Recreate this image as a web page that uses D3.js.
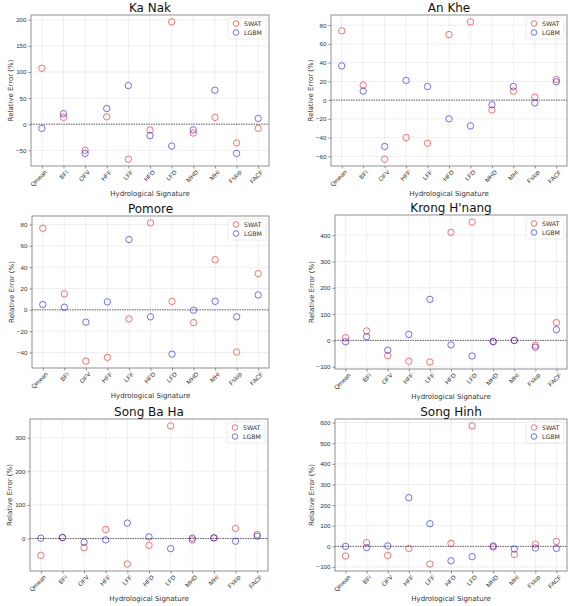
<!DOCTYPE html>
<html lang="en">
<head>
  <meta charset="utf-8">
  <style>
    body { margin: 0; background: #fff; }
    svg { font-family: "DejaVu Sans", sans-serif; }
    .tick text { font-size: 6.2px; fill: #333; }
    .title { font-size: 12px; fill: #111; }
    .axis-label { font-size: 7px; fill: #333; }
    .legend text { font-size: 6.2px; fill: #333; }
  </style>
  <script src="https://d3js.org/d3.v7.min.js"></script>
</head>
<body>
  <script>
    const categories = ["Qmean", "BFI", "OFV", "HFF", "LFF", "HFD", "LFD", "MHD", "MHI", "Fslop", "FACF"];
    const stations = ["Ka Nak", "An Khe", "Pomore", "Krong H'nang", "Song Ba Ha", "Song Hinh"];

    const swatKaNak = [107, 13, -50, 14, -67, -11, 196, -17, 13, -36, -8];
    const lgbmKaNak = [-8, 20, -56, 30, 74, -22, -42, -11, 65, -56, 11];
    const swatAnKhe = [74, 16, -63, -40, -46, 70, 83.5, -10.5, 9.6, 3.2, 22];
    const lgbmAnKhe = [36.5, 9.6, -49.5, 21, 14.5, -20, -27.5, -5, 14.5, -3, 19.5];
    const swatPomore = [76.5, 15, -48, -44.5, -8.5, 81.5, 8, -12, 47, -39.5, 34];
    const lgbmPomore = [5, 2.5, -11.5, 7.5, 66, -6.5, -41.5, -0.3, 8, -6.5, 14];
    const swatKrong = [10, 36, -58, -79, -82, 411, 450, -5, 0, -19, 68];
    const lgbmKrong = [-5, 14, -37, 23, 156, -17, -59, -4, 0, -26, 41];
    const swatBaHa = [-50, 3, -27, 27, -76, -20, 335, -4, 2, 30, 12];
    const lgbmBaHa = [1, 3, -11, -4, 46, 5, -30, 1, 2, -8, 7];
    const swatHinh = [-47, 18, -44, -10, -86, 15, 584, -3, -39, 11, 24];
    const lgbmHinh = [0, -6, 2, 236, 110, -70, -50, 2, -13, -8, -10];

    const swatSeries = [swatKaNak, swatAnKhe, swatPomore, swatKrong, swatBaHa, swatHinh];
    const lgbmSeries = [lgbmKaNak, lgbmAnKhe, lgbmPomore, lgbmKrong, lgbmBaHa, lgbmHinh];

    // axes rectangles [left, top, right, bottom]
    const boxes = [
      [31, 15, 269, 166], [331, 15, 567, 166],
      [32, 216, 269, 368], [335, 215, 567, 369],
      [30, 419, 268, 571], [335, 419, 567, 571]
    ];

    const svg = d3.select("body").append("svg")
      .attr("width", 584).attr("height", 606);

    const swatColor = "rgba(255,0,0,0.55)";
    const lgbmColor = "rgba(0,0,255,0.55)";
    const fmt = d => (d < 0 ? "\u2212" : "") + Math.abs(d);

    stations.forEach((name, i) => {
      const [l, t, r, b] = boxes[i];
      const swat = swatSeries[i], lgbm = lgbmSeries[i];
      const all = swat.concat(lgbm);
      const [mn, mx] = d3.extent(all);
      const pad = (mx - mn) * 0.05;

      const x = d3.scalePoint().domain(categories).range([l, r]).padding(0.5);
      const y = d3.scaleLinear().domain([mn - pad, mx + pad]).range([b, t]);

      const g = svg.append("g");

      // grid
      g.append("g").selectAll("line").data(y.ticks(6)).join("line")
        .attr("x1", l).attr("x2", r).attr("y1", d => y(d)).attr("y2", d => y(d))
        .attr("stroke", "#b0b0b0").attr("stroke-opacity", 0.3).attr("stroke-width", 0.7);
      g.append("g").selectAll("line").data(categories).join("line")
        .attr("x1", d => x(d)).attr("x2", d => x(d)).attr("y1", t).attr("y2", b)
        .attr("stroke", "#b0b0b0").attr("stroke-opacity", 0.3).attr("stroke-width", 0.7);

      // zero line
      g.append("line")
        .attr("x1", l).attr("x2", r).attr("y1", y(0)).attr("y2", y(0))
        .attr("stroke", "#000").attr("stroke-opacity", 0.75)
        .attr("stroke-width", 0.8).attr("stroke-dasharray", "1.5,1");

      // axes
      const ya = g.append("g").attr("transform", `translate(${l},0)`)
        .call(d3.axisLeft(y).ticks(6).tickSize(2.5).tickPadding(2).tickFormat(fmt));
      ya.select(".domain").remove();
      ya.selectAll(".tick line").attr("stroke", "#444").attr("stroke-width", 0.6);

      const xa = g.append("g").attr("transform", `translate(0,${b})`)
        .call(d3.axisBottom(x).tickSize(2.5).tickPadding(2));
      xa.select(".domain").remove();
      xa.selectAll(".tick line").attr("stroke", "#444").attr("stroke-width", 0.6);
      xa.selectAll(".tick text")
        .attr("transform", "rotate(-45)")
        .attr("text-anchor", "end")
        .attr("dx", "-0.2em").attr("dy", "0.6em");

      g.append("rect")
        .attr("x", l).attr("y", t).attr("width", r - l).attr("height", b - t)
        .attr("fill", "none").attr("stroke", "#777").attr("stroke-width", 0.8);

      // points
      g.append("g").selectAll("circle").data(swat).join("circle")
        .attr("cx", (d, j) => x(categories[j])).attr("cy", d => y(d))
        .attr("r", 3.2).attr("fill", "none").attr("stroke", swatColor).attr("stroke-width", 1);
      g.append("g").selectAll("circle").data(lgbm).join("circle")
        .attr("cx", (d, j) => x(categories[j])).attr("cy", d => y(d))
        .attr("r", 3.2).attr("fill", "none").attr("stroke", lgbmColor).attr("stroke-width", 1);

      // title and labels
      g.append("text").attr("class", "title")
        .attr("x", (l + r) / 2).attr("y", t - 3.5)
        .attr("text-anchor", "middle").text(name);
      g.append("text").attr("class", "axis-label")
        .attr("x", (l + r) / 2).attr("y", b + 30)
        .attr("text-anchor", "middle").text("Hydrological Signature");
      const yw = ya.node().getBBox().width;
      g.append("text").attr("class", "axis-label")
        .attr("transform", `translate(${l - yw - 3},${(t + b) / 2}) rotate(-90)`)
        .attr("text-anchor", "middle").text("Relative Error (%)");

      // legend
      const lg = g.append("g").attr("class", "legend")
        .attr("transform", `translate(${r - 41},${t + 3})`);
      lg.append("rect").attr("width", 38).attr("height", 21).attr("rx", 1.5)
        .attr("fill", "#fff").attr("fill-opacity", 0.8)
        .attr("stroke", "#ddd").attr("stroke-width", 0.6);
      [["SWAT", swatColor], ["LGBM", lgbmColor]].forEach(([lab, c], k) => {
        lg.append("circle").attr("cx", 8).attr("cy", 5.5 + k * 9).attr("r", 2.8)
          .attr("fill", "none").attr("stroke", c).attr("stroke-width", 1);
        lg.append("text").attr("x", 16).attr("y", 5.5 + k * 9).attr("dy", "0.35em").text(lab);
      });
    });
  </script>
</body>
</html>
